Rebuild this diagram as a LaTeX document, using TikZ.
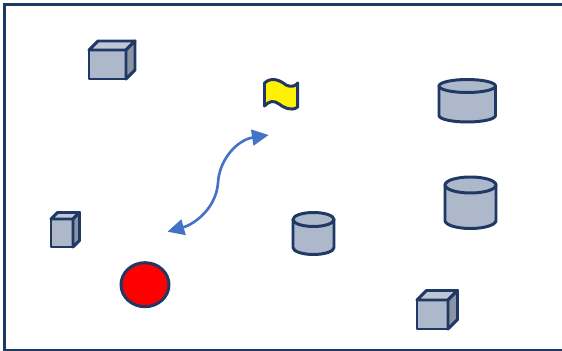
\documentclass[tikz,border=0pt]{standalone}
\usepackage{xcolor}
\usetikzlibrary{arrows.meta, shapes.geometric}
\definecolor{outline}{HTML}{1F3864}
\definecolor{bodyfill}{HTML}{ADB9CA}
\definecolor{lidfill}{HTML}{BDC7D5}
\definecolor{sidefill}{HTML}{8A94A2}
\definecolor{linkblue}{HTML}{4472C4}
\tikzset{
    frame/.style={
        draw=outline,
        line width=1.5pt
    },
    solid part/.style={
        draw=outline,
        line width=1.7pt,
        line join=round
    },
    ball/.style={
        ellipse,
        draw=outline,
        line width=1.7pt,
        fill=red,
        inner sep=0pt,
        minimum width=0.96cm,
        minimum height=0.88cm
    },
    link/.style={
        draw=linkblue,
        line width=1.5pt,
        {Triangle[length=9.5pt,width=9pt]}-{Triangle[length=9.5pt,width=9pt]}
    },
    % box: front width, front height, depth
    pics/box/.style args={#1/#2/#3}{
        code={
            \draw[solid part, fill=bodyfill] (0,0) rectangle (#1,#2);
            \draw[solid part, fill=lidfill] (0,0) -- (#3,-#3) -- (#1+#3,-#3) -- (#1,0) -- cycle;
            \draw[solid part, fill=sidefill] (#1,0) -- (#1+#3,-#3) -- (#1+#3,#2-#3) -- (#1,#2) -- cycle;
        }
    },
    % drum: width, total height, height of the lid
    pics/drum/.style args={#1/#2/#3}{
        code={
            \draw[solid part, fill=bodyfill] (0,#3/2) -- (0,#2-#3/2) arc[start angle=180, end angle=360, x radius=#1/2, y radius=-#3/2]
                -- (#1,#3/2) -- cycle;
            \draw[solid part, fill=bodyfill] (#1/2,#3/2) ellipse[x radius=#1/2, y radius=#3/2];
        }
    }
}
\begin{document}
\begin{tikzpicture}[x=0.02cm,y=-0.02cm]
\useasboundingbox (0,0) rectangle (562,351);

\draw[frame] (4.5,4.5) rectangle (563,350);

\pic at (89,50) {box=37/29/9};
\pic at (51,219) {box=22/28/6.5};
\pic at (417,300) {box=31/29/9.5};

\pic at (439,79.5) {drum=56.5/42.5/13};
\pic at (445,177) {drum=51/51.5/16};
\pic at (293,212.5) {drum=41/42/14};

\node[ball] (target) at (145,284.7) {};

% flag
\draw[solid part, fill=yellow] (264.5,83) .. controls (272,76) and (281,81) .. (286,85)
    .. controls (290,87) and (295,87) .. (297.7,83) -- (297.7,107)
    .. controls (291,112) and (283,107) .. (279,104)
    .. controls (274,100) and (269,101) .. (264.5,106) -- cycle;

\coordinate (linkstart) at (167.5,231.7);
\coordinate (linkend) at (268.7,135);
\draw[link] (linkstart) .. controls (195,224) and (216,208) .. (218,183) .. controls (219,160) and (237,140) .. (linkend);

\end{tikzpicture}
\end{document}
